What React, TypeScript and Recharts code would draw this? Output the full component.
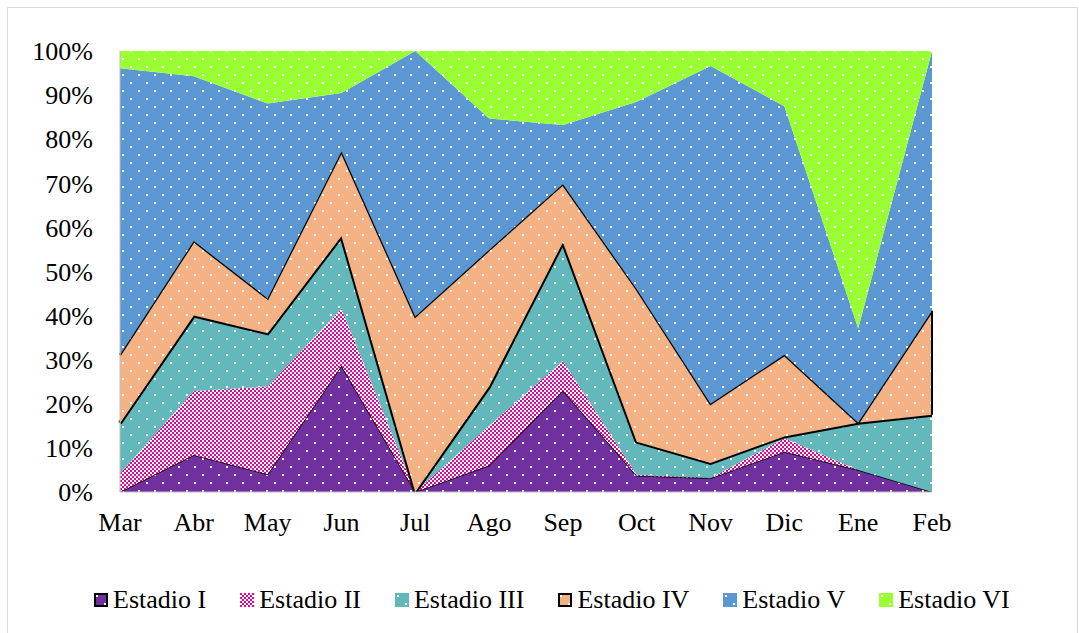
import React from 'react';
import { AreaChart, Area, XAxis, YAxis, ReferenceLine } from 'recharts';

const months = ['Mar', 'Abr', 'May', 'Jun', 'Jul', 'Ago', 'Sep', 'Oct', 'Nov', 'Dic', 'Ene', 'Feb'];
const estadioI = [0, 8.4, 4.0, 28.6, 0, 6.0, 23.0, 3.7, 3.1, 9.1, 5.0, 0];
const estadioII = [4.2, 14.5, 19.9, 13.0, 0, 9.0, 6.7, 0.2, 0.1, 3.1, 0, 0];
const estadioIII = [11.4, 17.1, 12.1, 16.4, 0, 8.9, 26.9, 7.5, 3.4, 0.4, 10.7, 17.5];
const estadioIV = [15.5, 16.9, 7.9, 19.2, 39.8, 31.0, 13.2, 34.6, 13.4, 18.5, 0, 23.6];
const estadioV = [65.0, 37.4, 44.2, 13.3, 60.2, 29.8, 13.4, 42.5, 76.6, 56.4, 21.4, 58.9];
const estadioVI = [3.9, 5.7, 11.9, 9.5, 0, 15.3, 16.8, 11.5, 3.4, 12.5, 62.9, 0];
const seriesNames = ['Estadio I', 'Estadio II', 'Estadio III', 'Estadio IV', 'Estadio V', 'Estadio VI'];
const yTicks = [0, 10, 20, 30, 40, 50, 60, 70, 80, 90, 100];

const seriesValues = [estadioI, estadioII, estadioIII, estadioIV, estadioV, estadioVI];
const keys = ['e1', 'e2', 'e3', 'e4', 'e5', 'e6'];

const data = months.map((m, i) => {
  const row: Record<string, string | number> = { month: m };
  keys.forEach((k, j) => {
    row[k] = seriesValues[j][i];
  });
  return row;
});

const styles = [
  { fill: 'url(#pat1)', stroke: '#000000', width: 1.5, border: true },
  { fill: 'url(#pat2)', stroke: 'none', width: 0, border: false },
  { fill: 'url(#pat3)', stroke: '#000000', width: 4, border: false },
  { fill: 'url(#pat4)', stroke: '#000000', width: 2.5, border: true },
  { fill: 'url(#pat5)', stroke: 'none', width: 0, border: false },
  { fill: 'url(#pat6)', stroke: 'none', width: 0, border: false },
];

const dotColors = ['#7030A0', '', '#62B8BB', '#F4B183', '#5B97D3', '#99FF33'];

const lastIdx = months.length - 1;
const cumIIIFeb = estadioI[lastIdx] + estadioII[lastIdx] + estadioIII[lastIdx];
const cumIVFeb = cumIIIFeb + estadioIV[lastIdx];

const FONT = '"Liberation Serif", "Times New Roman", serif';
const AXIS_GRAY = '#bfbfbf';

function DotPattern({ id, color }: { id: string; color: string }) {
  return (
    <pattern id={id} patternUnits="userSpaceOnUse" width={16} height={16}>
      <rect x={0} y={0} width={16} height={16} fill={color} />
      <rect x={2} y={2} width={2} height={2} fill="#ffffff" />
      <rect x={10} y={10} width={2} height={2} fill="#ffffff" />
    </pattern>
  );
}

function Defs() {
  return (
    <defs>
      {dotColors.map((c, i) =>
        i === 1 ? (
          <pattern key={i} id="pat2" patternUnits="userSpaceOnUse" width={4} height={4}>
            <rect x={0} y={0} width={4} height={4} fill="#ffffff" />
            <rect x={0} y={0} width={2} height={2} fill="#E0079B" />
            <rect x={2} y={2} width={2} height={2} fill="#E0079B" />
          </pattern>
        ) : (
          <DotPattern key={i} id={`pat${i + 1}`} color={c} />
        )
      )}
    </defs>
  );
}

export default function App() {
  return (
    <div style={{ position: 'fixed', left: 0, top: 0, width: 1079, height: 633, overflow: 'hidden', background: '#ffffff', fontFamily: FONT }}>
      <div style={{ position: 'absolute', left: 7, top: 7, width: 1069, height: 640, border: '1px solid #d9d9d9' }} />
      <div style={{ position: 'absolute', left: 0, top: 0 }}>
        <AreaChart
          width={1079}
          height={633}
          data={data}
          margin={{ top: 51, right: 147, bottom: 111, left: 0 }}
        >
          <Defs />
          <XAxis
            dataKey="month"
            interval={0}
            height={30}
            axisLine={{ stroke: AXIS_GRAY, strokeWidth: 1 }}
            tickLine={false}
            tickSize={0}
            tickMargin={21}
            tick={{ fill: '#000000', fontSize: 26, fontFamily: FONT }}
          />
          <XAxis
            xAxisId="top"
            orientation="top"
            dataKey="month"
            height={0}
            tick={false}
            tickLine={false}
            axisLine={{ stroke: AXIS_GRAY, strokeWidth: 1 }}
          />
          <YAxis
            width={120}
            domain={[0, 100]}
            allowDataOverflow
            ticks={yTicks}
            interval={0}
            tickFormatter={(v: number) => `${v}%`}
            axisLine={{ stroke: AXIS_GRAY, strokeWidth: 1 }}
            tickLine={false}
            tickSize={0}
            tickMargin={27}
            tick={{ fill: '#000000', fontSize: 26, fontFamily: FONT }}
          />
          <YAxis
            yAxisId="right"
            orientation="right"
            width={0}
            domain={[0, 100]}
            tick={false}
            tickLine={false}
            axisLine={{ stroke: AXIS_GRAY, strokeWidth: 1 }}
          />
          {keys.map((k, i) => (
            <Area
              key={k}
              type="linear"
              dataKey={k}
              name={seriesNames[i]}
              stackId="1"
              fill={styles[i].fill}
              fillOpacity={1}
              stroke={styles[i].stroke}
              strokeWidth={styles[i].width}
              dot={false}
              activeDot={false}
              isAnimationActive={false}
            />
          ))}
          <ReferenceLine
            segment={[
              { x: 'Feb', y: cumIIIFeb },
              { x: 'Feb', y: cumIVFeb },
            ]}
            stroke="#000000"
            strokeWidth={2}
            ifOverflow="visible"
          />
        </AreaChart>
      </div>
      <div
        style={{
          position: 'absolute',
          left: 94,
          top: 585,
          height: 30,
          display: 'flex',
          alignItems: 'center',
          whiteSpace: 'nowrap',
        }}
      >
        {seriesNames.map((n, i) => (
          <div key={n} style={{ display: 'flex', alignItems: 'center', marginRight: 34 }}>
            <svg width={14} height={14} style={{ display: 'block', marginRight: 5 }}>
              <rect
                x={styles[i].border ? 1 : 0}
                y={styles[i].border ? 1 : 0}
                width={styles[i].border ? 12 : 14}
                height={styles[i].border ? 12 : 14}
                fill={styles[i].fill}
                stroke={styles[i].border ? '#000000' : 'none'}
                strokeWidth={styles[i].border ? 2 : 0}
              />
            </svg>
            <span style={{ fontSize: 26, lineHeight: '30px', color: '#000000', fontFamily: FONT }}>{n}</span>
          </div>
        ))}
      </div>
    </div>
  );
}
